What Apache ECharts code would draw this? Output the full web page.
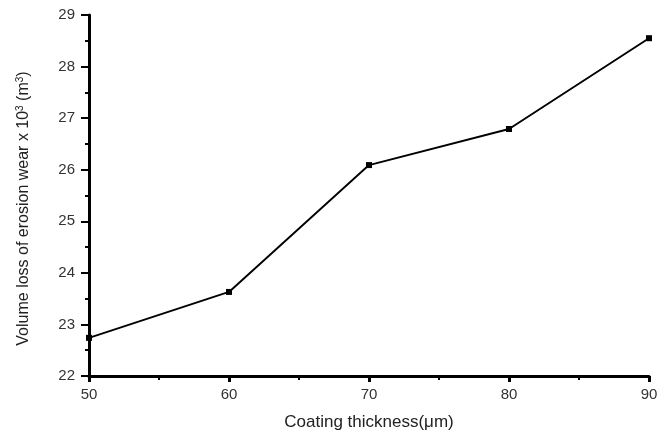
<!DOCTYPE html>
<html>
<head>
<meta charset="utf-8">
<script src="https://cdn.jsdelivr.net/npm/echarts@6/dist/echarts.min.js"></script>
<style>
  html, body { margin: 0; padding: 0; background: #fff; }
  #chart { width: 667px; height: 431px; }
</style>
</head>
<body>
<div id="chart"></div>
<script>
// coating thickness (um) vs volume loss
const thickness = [50, 60, 70, 80, 90]
const volumeLoss = [22.74, 23.63, 26.09, 26.79, 28.55]

const font = 'Liberation Sans, Arial, sans-serif'

const chart = echarts.init(document.getElementById('chart'))
const option = {
  animation: false,
  grid: { left: 89, right: 18, top: 15, bottom: 55, outerBoundsMode: 'none' },
  xAxis: {
    type: 'value',
    min: 50,
    max: 90,
    interval: 10,
    name: 'Coating thickness(\u03bcm)',
    nameLocation: 'middle',
    nameGap: 38,
    nameTextStyle: { fontFamily: font, fontSize: 17, color: '#222' },
    axisLine: { lineStyle: { color: '#000', width: 3 } },
    axisTick: { length: 6, lineStyle: { color: '#000', width: 3 } },
    minorTick: { show: true, splitNumber: 2, length: 4, lineStyle: { color: '#000', width: 2 } },
    axisLabel: { fontFamily: font, fontSize: 15, color: '#333', margin: 11 },
    splitLine: { show: false }
  },
  yAxis: {
    type: 'value',
    min: 22,
    max: 29,
    interval: 1,
    name: 'Volume loss of erosion wear x 10{sup|3} (m{sup|3})',
    nameLocation: 'middle',
    nameGap: 56,
    nameTextStyle: {
      fontFamily: font, fontSize: 16, color: '#222',
      padding: [0, 26, 0, 0],
      rich: { sup: { fontFamily: font, fontSize: 10, color: '#222', verticalAlign: 'top', padding: [0, 0, 8, 0] } }
    },
    axisLine: { lineStyle: { color: '#000', width: 3 } },
    axisTick: { length: 8, lineStyle: { color: '#000', width: 2 } },
    minorTick: { show: true, splitNumber: 2, length: 4, lineStyle: { color: '#000', width: 2 } },
    axisLabel: { fontFamily: font, fontSize: 15, color: '#333', margin: 14 },
    splitLine: { show: false }
  },
  series: [{
    type: 'line',
    data: thickness.map((t, i) => [t, volumeLoss[i]]),
    symbol: 'rect',
    symbolSize: 6,
    showSymbol: true,
    itemStyle: { color: '#000' },
    lineStyle: { color: '#000', width: 1.9 }
  }]
}
chart.setOption(option)
</script>
</body>
</html>
